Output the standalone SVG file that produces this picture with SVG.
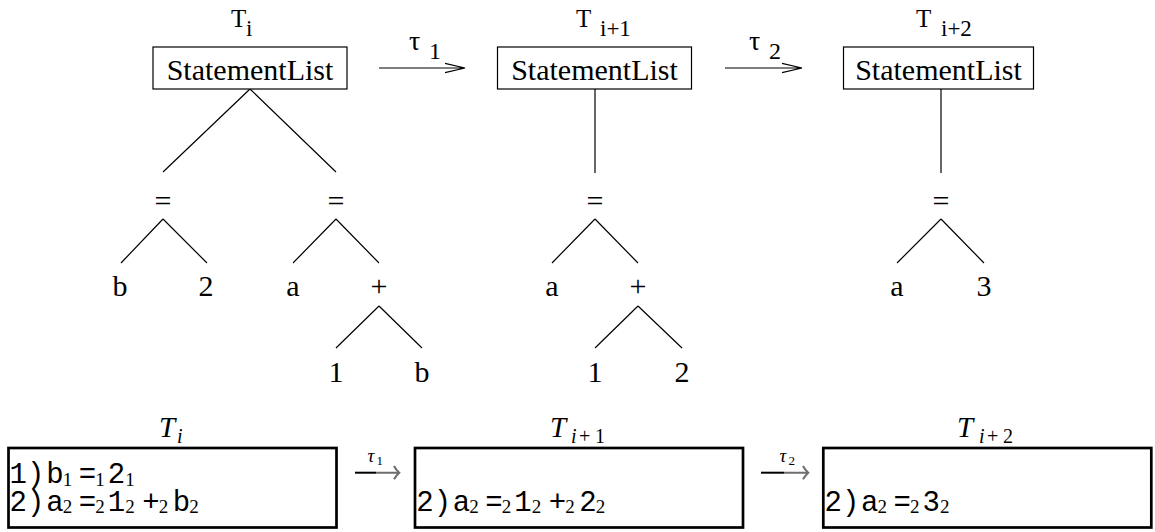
<svg xmlns="http://www.w3.org/2000/svg" width="1155" height="532" viewBox="0 0 1155 532">
<style>
.ser{font-family:"Liberation Serif","Times New Roman",serif;fill:#000}
.lbl{font-size:30px;text-anchor:middle}
.tl{font-size:25px}
.ts{font-size:23px}
.box{fill:#fff;stroke:#000;stroke-width:1.2}
.ln{stroke:#000;stroke-width:1.2;fill:none}
.tt{font-family:"Liberation Mono","Courier New",monospace;font-size:29px;text-anchor:middle;fill:#000}
.sb{font-family:"Liberation Serif","Times New Roman",serif;font-size:19px;text-anchor:middle;fill:#000}
.it{font-family:"Liberation Serif","Times New Roman",serif;font-style:italic;fill:#000}
.bbox{fill:none;stroke:#000;stroke-width:2.7}
</style>
<rect width="1155" height="532" fill="#fff"/>

<g id="connectors">
  <path class="ln" d="M250,89 L163,172 M250,89 L336,172"/>
  <path class="ln" d="M163,219 L121,263 M163,219 L207,263"/>
  <path class="ln" d="M336,219 L293,263 M336,219 L379,263"/>
  <path class="ln" d="M379,306 L336,348 M379,306 L422,348"/>
  <path class="ln" d="M595,89 L595,173"/>
  <path class="ln" d="M595,219 L552,263 M595,219 L638,263"/>
  <path class="ln" d="M638,306 L595,348 M638,306 L682,348"/>
  <path class="ln" d="M941,89 L941,173"/>
  <path class="ln" d="M941,219 L897,263 M941,219 L984,263"/>
  <path class="ln" d="M379,68 L465,68 M445,63.3 L465,68 L445,72.7"/>
  <path class="ln" d="M725,68 L802,68 M782,63.3 L802,68 L782,72.7"/>
  <path d="M355,472.7 L376,472.7" stroke="#000" stroke-width="2" fill="none"/>
  <path d="M376,472.7 L399,472.7 M394,466 Q396,470 399.3,472.7 Q396,475.5 394,479.3" stroke="#6e6e6e" stroke-width="2" fill="none"/>
  <path d="M761,472.7 L784,472.7" stroke="#000" stroke-width="2" fill="none"/>
  <path d="M784,472.7 L808,472.7 M803,466 Q805,470 808.3,472.7 Q805,475.5 803,479.3" stroke="#6e6e6e" stroke-width="2" fill="none"/>
</g>

<g id="arrow-labels">
  <text class="ser" x="409" y="50" font-size="28">τ</text>
  <text class="ser" x="429" y="59" font-size="24">1</text>
  <text class="ser" x="749" y="50" font-size="28">τ</text>
  <text class="ser" x="769" y="59" font-size="24">2</text>
  <text class="it" x="367.5" y="462" font-size="19">τ</text>
  <text class="ser" x="376.5" y="465" font-size="13">1</text>
  <text class="it" x="779.5" y="462" font-size="19">τ</text>
  <text class="ser" x="788.5" y="465" font-size="13">2</text>
</g>

<g id="t1-root">
  <text class="ser tl" x="231" y="27">T</text>
  <text class="ser ts" x="246" y="36">i</text>
  <rect class="box" x="153" y="47" width="194" height="42"/>
  <text class="ser lbl" x="250" y="80">StatementList</text>
</g>
<g id="t1-eq1"><text class="ser lbl" x="163" y="211">=</text></g>
<g id="t1-eq2"><text class="ser lbl" x="336" y="211">=</text></g>
<g id="t1-b"><text class="ser lbl" x="120" y="296">b</text></g>
<g id="t1-2"><text class="ser lbl" x="206" y="296">2</text></g>
<g id="t1-a"><text class="ser lbl" x="293" y="296">a</text></g>
<g id="t1-plus"><text class="ser lbl" x="379" y="296">+</text></g>
<g id="t1-1"><text class="ser lbl" x="336" y="382">1</text></g>
<g id="t1-b2"><text class="ser lbl" x="422" y="382">b</text></g>

<g id="t2-root">
  <text class="ser tl" x="576" y="27">T</text>
  <text class="ser ts" x="600" y="36">i+1</text>
  <rect class="box" x="497.5" y="47" width="194" height="42"/>
  <text class="ser lbl" x="594.5" y="80">StatementList</text>
</g>
<g id="t2-eq"><text class="ser lbl" x="595" y="211">=</text></g>
<g id="t2-a"><text class="ser lbl" x="552" y="296">a</text></g>
<g id="t2-plus"><text class="ser lbl" x="638" y="296">+</text></g>
<g id="t2-1"><text class="ser lbl" x="595" y="382">1</text></g>
<g id="t2-2"><text class="ser lbl" x="682" y="382">2</text></g>

<g id="t3-root">
  <text class="ser tl" x="916" y="27">T</text>
  <text class="ser ts" x="941" y="36">i+2</text>
  <rect class="box" x="843.5" y="47" width="190" height="42"/>
  <text class="ser lbl" x="938.5" y="80">StatementList</text>
</g>
<g id="t3-eq"><text class="ser lbl" x="941" y="211">=</text></g>
<g id="t3-a"><text class="ser lbl" x="897" y="296">a</text></g>
<g id="t3-3"><text class="ser lbl" x="984" y="296">3</text></g>

<g id="b1">
  <text class="it" x="159" y="437" font-size="29">T</text>
  <text class="it" x="177" y="443" font-size="20">i</text>
  <rect class="bbox" x="8.5" y="448" width="328" height="79.5"/>
  <text class="tt" x="18.3" y="483.3">1</text><text class="tt" x="35.8" y="483.3">)</text>
  <text class="tt" x="55" y="483.3">b</text><text class="sb" x="67.5" y="486">1</text>
  <text class="tt" x="87.5" y="483.3">=</text><text class="sb" x="100" y="486">1</text>
  <text class="tt" x="116.5" y="483.3">2</text><text class="sb" x="130" y="486">1</text>
  <text class="tt" x="18.3" y="510.7">2</text><text class="tt" x="35.8" y="510.7">)</text>
  <text class="tt" x="55" y="510.7">a</text><text class="sb" x="67.5" y="513.4">2</text>
  <text class="tt" x="87.5" y="510.7">=</text><text class="sb" x="100" y="513.4">2</text>
  <text class="tt" x="116.5" y="510.7">1</text><text class="sb" x="130" y="513.4">2</text>
  <text class="tt" x="151" y="510.7">+</text><text class="sb" x="163.5" y="513.4">2</text>
  <text class="tt" x="181.5" y="510.7">b</text><text class="sb" x="194" y="513.4">2</text>
</g>

<g id="b2">
  <text class="it" x="550" y="437" font-size="29">T</text>
  <text class="it" x="571" y="443" font-size="20">i</text>
  <text class="ser" x="579" y="443" font-size="20">+</text>
  <text class="ser" x="595" y="443" font-size="20">1</text>
  <rect class="bbox" x="415" y="448" width="328" height="79.5"/>
  <text class="tt" x="425" y="510.7">2</text><text class="tt" x="442.5" y="510.7">)</text>
  <text class="tt" x="461.5" y="510.7">a</text><text class="sb" x="474" y="513.4">2</text>
  <text class="tt" x="494" y="510.7">=</text><text class="sb" x="506.5" y="513.4">2</text>
  <text class="tt" x="523" y="510.7">1</text><text class="sb" x="536.5" y="513.4">2</text>
  <text class="tt" x="557.5" y="510.7">+</text><text class="sb" x="570" y="513.4">2</text>
  <text class="tt" x="588" y="510.7">2</text><text class="sb" x="600.5" y="513.4">2</text>
</g>

<g id="b3">
  <text class="it" x="957" y="437" font-size="29">T</text>
  <text class="it" x="979" y="443" font-size="20">i</text>
  <text class="ser" x="987" y="443" font-size="20">+</text>
  <text class="ser" x="1003" y="443" font-size="20">2</text>
  <rect class="bbox" x="823.3" y="448" width="328" height="79.5"/>
  <text class="tt" x="833.3" y="510.7">2</text><text class="tt" x="850.8" y="510.7">)</text>
  <text class="tt" x="869.8" y="510.7">a</text><text class="sb" x="882.3" y="513.4">2</text>
  <text class="tt" x="902.3" y="510.7">=</text><text class="sb" x="914.8" y="513.4">2</text>
  <text class="tt" x="931.3" y="510.7">3</text><text class="sb" x="944.8" y="513.4">2</text>
</g>
</svg>
